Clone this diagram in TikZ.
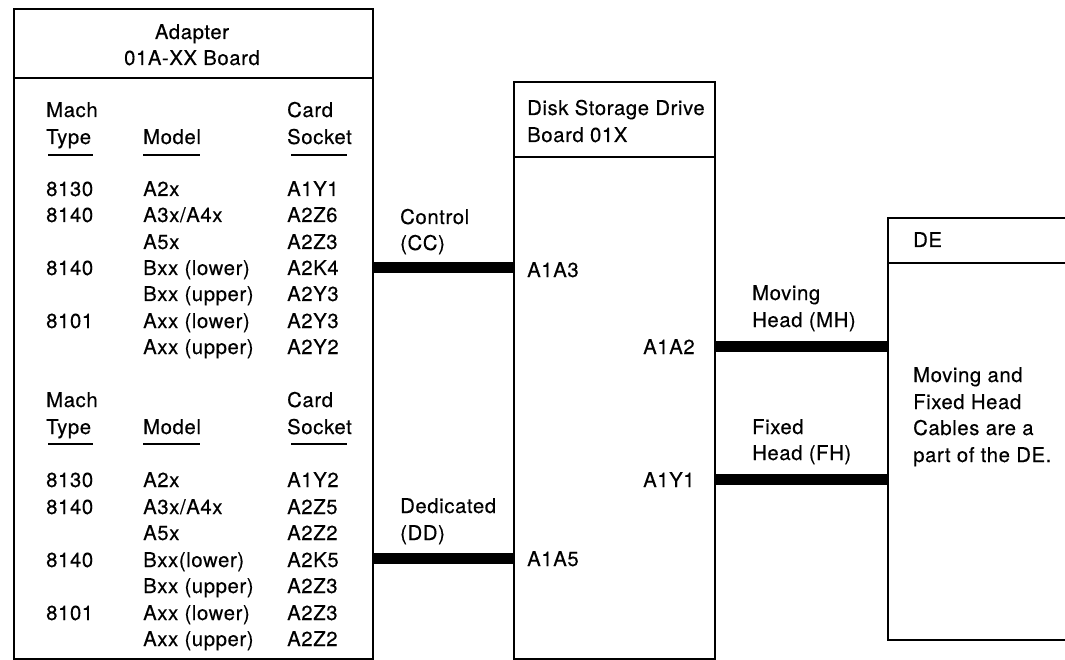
\documentclass[tikz,border=0pt]{standalone}
\usepackage{fontspec}
\setmainfont[LetterSpace=3,FakeBold=0.35]{TeX Gyre Heros}
\begin{document}
\begin{tikzpicture}[x=1pt,y=-1pt,
  box/.style={draw, line width=2.4pt, inner sep=0pt, anchor=north west},
  txt/.style={anchor=base west, inner sep=0pt, font=\fontsize{20.3}{26}\selectfont},
  ctxt/.style={txt, anchor=base},
  bar/.style={line width=11pt},
  rulel/.style={line width=2.4pt},
  uline/.style={line width=2.2pt}]
\useasboundingbox (0,0) rectangle (1065,660);
\clip (0,0) rectangle (1065,660);
% boxes
\node[box, minimum width=359pt, minimum height=650pt] (adapter) at (13,8) {};
\node[box, minimum width=201pt, minimum height=577pt] (drive) at (513,81) {};
\node[box, minimum width=230pt, minimum height=422pt] (de) at (887,217) {};
% header dividers
\draw[rulel] (adapter.west |- 0,78) -- (adapter.east |- 0,78);
\draw[rulel] (drive.west |- 0,157) -- (drive.east |- 0,157);
\draw[rulel] (de.west |- 0,263) -- (de.east |- 0,263);
% adapter header
\node[ctxt] (ad1) at (192,39) {Adapter};
\node[ctxt] (ad2) at (192,65) {01A-XX Board};
% first table
\node[txt] (h1a) at (46,117) {Mach};
\node[txt] (h1b) at (46,144) {Type};
\node[txt] (h1c) at (143,144) {Model};
\node[txt] (h1d) at (287,117) {Card};
\node[txt] (h1e) at (287,144) {Socket};
\draw[uline] (48,155) -- (93,155);
\draw[uline] (143,155) -- (200,155);
\draw[uline] (291,155) -- (347,155);
\node[txt] (r1a) at (46,196) {8130};
\node[txt] (r1b) at (143,196) {A2x};
\node[txt] (r1c) at (287,196) {A1Y1};
\node[txt] (r2a) at (46,222) {8140};
\node[txt] (r2b) at (143,222) {A3x/A4x};
\node[txt] (r2c) at (287,222) {A2Z6};
\node[txt] (r3b) at (143,249) {A5x};
\node[txt] (r3c) at (287,249) {A2Z3};
\node[txt] (r4a) at (46,275) {8140};
\node[txt] (r4b) at (143,275) {Bxx (lower)};
\node[txt] (r4c) at (287,275) {A2K4};
\node[txt] (r5b) at (143,301) {Bxx (upper)};
\node[txt] (r5c) at (287,301) {A2Y3};
\node[txt] (r6a) at (46,328) {8101};
\node[txt] (r6b) at (143,328) {Axx (lower)};
\node[txt] (r6c) at (287,328) {A2Y3};
\node[txt] (r7b) at (143,354) {Axx (upper)};
\node[txt] (r7c) at (287,354) {A2Y2};
% second table
\node[txt] (h2a) at (46,407) {Mach};
\node[txt] (h2b) at (46,434) {Type};
\node[txt] (h2c) at (143,434) {Model};
\node[txt] (h2d) at (287,407) {Card};
\node[txt] (h2e) at (287,434) {Socket};
\draw[uline] (48,444) -- (93,444);
\draw[uline] (143,444) -- (200,444);
\draw[uline] (291,444) -- (347,444);
\node[txt] (s1a) at (46,487) {8130};
\node[txt] (s1b) at (143,487) {A2x};
\node[txt] (s1c) at (287,487) {A1Y2};
\node[txt] (s2a) at (46,514) {8140};
\node[txt] (s2b) at (143,514) {A3x/A4x};
\node[txt] (s2c) at (287,514) {A2Z5};
\node[txt] (s3b) at (143,540) {A5x};
\node[txt] (s3c) at (287,540) {A2Z2};
\node[txt] (s4a) at (46,567) {8140};
\node[txt] (s4b) at (143,567) {Bxx(lower)};
\node[txt] (s4c) at (287,567) {A2K5};
\node[txt] (s5b) at (143,593) {Bxx (upper)};
\node[txt] (s5c) at (287,593) {A2Z3};
\node[txt] (s6a) at (46,620) {8101};
\node[txt] (s6b) at (143,620) {Axx (lower)};
\node[txt] (s6c) at (287,620) {A2Z3};
\node[txt] (s7b) at (143,646) {Axx (upper)};
\node[txt] (s7c) at (287,646) {A2Z2};
% drive header
\node[txt] (dr1) at (527,115) {Disk Storage Drive};
\node[txt] (dr2) at (527,142) {Board 01X};
% drive pins
\node[txt] (a1a3) at (527,277) {A1A3};
\node[txt] (a1a5) at (527,566) {A1A5};
\node[txt] (a1a2) at (643,354) {A1A2};
\node[txt] (a1y1) at (643,487) {A1Y1};
% cable labels
\node[txt] (cc1) at (400,224) {Control};
\node[txt] (cc2) at (400,250) {(CC)};
\node[txt] (dd1) at (400,513) {Dedicated};
\node[txt] (dd2) at (400,540) {(DD)};
\node[txt] (mh1) at (752,300) {Moving};
\node[txt] (mh2) at (752,327) {Head (MH)};
\node[txt] (fh1) at (752,434) {Fixed};
\node[txt] (fh2) at (752,460) {Head (FH)};
% DE
\node[txt] (de1) at (913,247) {DE};
\node[txt] (de2) at (913,382) {Moving and};
\node[txt] (de3) at (913,409) {Fixed Head};
\node[txt] (de4) at (913,435) {Cables are a};
\node[txt] (de5) at (913,462) {part of the DE.};
% cables
\draw[bar] (adapter.east |- 0,267.5) -- (drive.west |- 0,267.5);
\draw[bar] (adapter.east |- 0,558.5) -- (drive.west |- 0,558.5);
\draw[bar] (drive.east |- 0,346.5) -- (de.west |- 0,346.5);
\draw[bar] (drive.east |- 0,479) -- (de.west |- 0,479);
\end{tikzpicture}
\end{document}
